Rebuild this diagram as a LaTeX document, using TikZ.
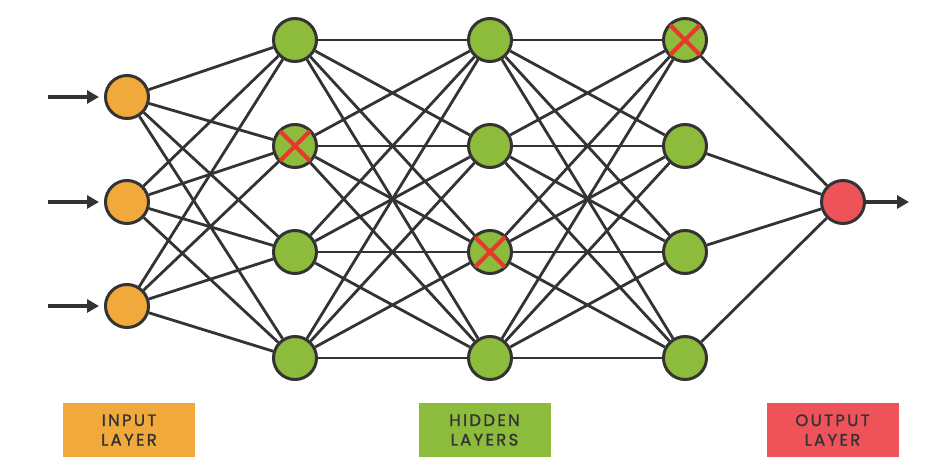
\documentclass[tikz,border=0pt]{standalone}
\usepackage{fontspec}
\usepackage{xcolor}
\usepackage{tikz}
\usetikzlibrary{arrows.meta,backgrounds}
\newfontfamily\lblfont{Poppins}[LetterSpace=14,FakeBold=1.3]
\definecolor{ninput}{HTML}{F2A93B}
\definecolor{nhidden}{HTML}{8DBB3B}
\definecolor{noutput}{HTML}{EE535A}
\definecolor{nline}{HTML}{333333}
\definecolor{ncrosscol}{HTML}{E8372B}
\definecolor{ntext}{HTML}{333333}
\tikzset{
  >={Triangle[length=12pt,width=13pt]},
  nunit/.style={circle, draw=nline, line width=3pt, minimum size=43pt, inner sep=0pt},
  nin/.style={nunit, fill=ninput},
  nhid/.style={nunit, fill=nhidden},
  nout/.style={nunit, fill=noutput},
  nedge/.style={nline, line width=2.8pt},
  nflow/.style={->, nline, line width=4pt},
  ndrop/.style={ncrosscol, line width=4pt},
  nlabel/.style={minimum width=132pt, minimum height=54pt, inner sep=0pt,
                 align=center, text=ntext, font=\lblfont\fontsize{16.5}{19.5}\selectfont},
}

\begin{document}
\begin{tikzpicture}[x=1pt,y=-1pt]

  \useasboundingbox (0,0) rectangle (930,468);

  % units
  \foreach \i/\y in {1/97,2/202,3/306}
    \node[nin] (in\i) at (127,\y) {};
  \foreach \l/\x in {a/295,b/490,c/685}
    \foreach \i/\y in {1/40,2/146,3/252,4/358}
      \node[nhid] (h\l\i) at (\x,\y) {};
  \node[nout] (out) at (843,202) {};

  % connections
  \begin{scope}[on background layer]
    \foreach \i in {1,2,3}
      \foreach \j in {1,...,4}
        \draw[nedge] (in\i) -- (ha\j);
    \foreach \i in {1,...,4}
      \foreach \j in {1,...,4}
      {
        \draw[nedge] (ha\i) -- (hb\j);
        \draw[nedge] (hb\i) -- (hc\j);
      }
    \foreach \i in {1,...,4}
      \draw[nedge] (hc\i) -- (out);
  \end{scope}

  % inputs and output
  \foreach \i/\y in {1/97,2/202,3/306}
  {
    \coordinate (src\i) at (48,\y);
    \draw[nflow, shorten >=5pt] (src\i) -- (in\i.west);
  }
  \coordinate (sink) at (909,202);
  \draw[nflow] (out.east) -- (sink);

  % dropped units
  \foreach \u in {ha2,hb3,hc1}
    \draw[ndrop] (\u.center) +(-15,-15) -- +(15,15)
                 (\u.center) +(-15,15) -- +(15,-15);

  % layer labels
  \node[nlabel, fill=ninput]  (lblin)  at (129,430)   {INPUT\\LAYER};
  \node[nlabel, fill=nhidden] (lblhid) at (484.5,430) {HIDDEN\\LAYERS};
  \node[nlabel, fill=noutput] (lblout) at (832.5,430) {OUTPUT\\LAYER};

\end{tikzpicture}
\end{document}
